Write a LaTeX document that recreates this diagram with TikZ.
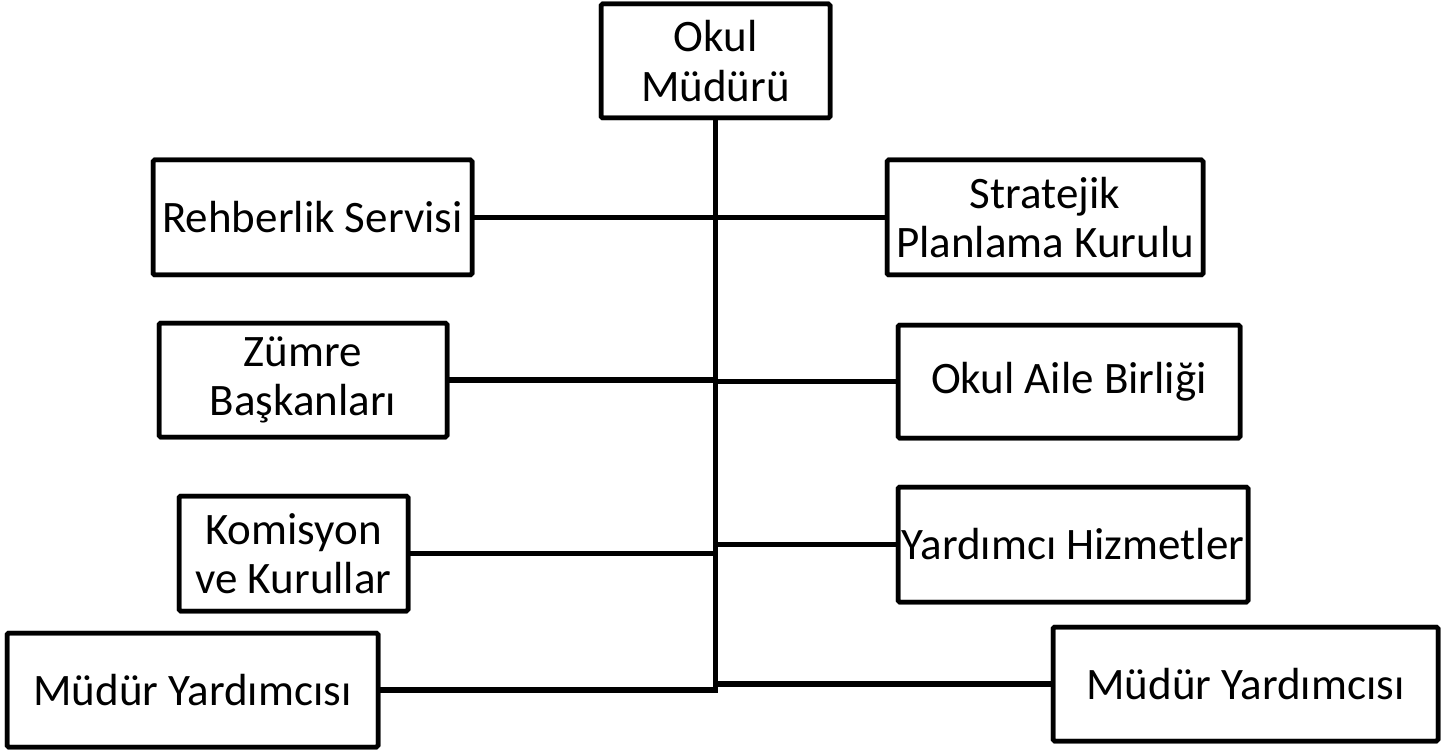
\documentclass[tikz,border=0pt]{standalone}
\usepackage{fontspec}
\setmainfont{Carlito}
\begin{document}
\begin{tikzpicture}[x=1pt,y=-1pt,
  orgbox/.style={draw=black, line width=4.5pt, rounded corners=1.5pt, fill=white,
    inner sep=0pt, outer sep=0pt, align=center, font=\fontsize{45}{49.5}\selectfont},
  link/.style={draw=black, line width=5.5pt}]
\useasboundingbox (0,0) rectangle (1456,751);
\fill[white] (0,0) rectangle (1456,751);
% nodes
\node[orgbox, minimum width=229pt, minimum height=114pt] (top) at (715.5,61) {Okul\\Müdürü};
\node[orgbox, minimum width=319pt, minimum height=115pt] (reh) at (312.5,217.5) {Rehberlik Servisi};
\node[orgbox, minimum width=316pt, minimum height=115pt] (str) at (1045,217.5) {Stratejik\\Planlama Kurulu};
\node[orgbox, minimum width=288pt, minimum height=114pt] (zum) at (303,380) {Zümre\\Başkanları};
\node[orgbox, minimum width=342pt, minimum height=113pt] (oab) at (1069,381.5) {Okul Aile Birliği};
\node[orgbox, minimum width=229pt, minimum height=115pt] (kom) at (293.5,553.5) {Komisyon\\ve Kurullar};
\node[orgbox, minimum width=350pt, minimum height=115pt] (yh) at (1073,544.5) {Yardımcı Hizmetler};
\node[orgbox, minimum width=371pt, minimum height=114pt] (myl) at (192.5,690) {Müdür Yardımcısı};
\node[orgbox, minimum width=385pt, minimum height=114pt] (myr) at (1245.5,684) {Müdür Yardımcısı};
% trunk
\coordinate (trunkend) at (top.south |- myl.east);
\draw[link] (top.south) -- ([yshift=2.75pt]trunkend);
% branches
\draw[link] (reh.east) -- (reh.east -| str.west);
\draw[link] (zum.east) -- (zum.east -| top.south);
\draw[link] (top.south |- oab.west) -- (oab.west);
\draw[link] (kom.east) -- (kom.east -| top.south);
\draw[link] (top.south |- yh.west) -- (yh.west);
\draw[link] (myl.east) -- ([xshift=2.75pt]myl.east -| top.south);
\draw[link] (top.south |- myr.west) -- (myr.west);
% redraw box borders over the link ends
\foreach \n in {top,reh,str,zum,oab,kom,yh,myl,myr}{
  \draw[line width=4.5pt, rounded corners=1.5pt] (\n.north west) rectangle (\n.south east);
}
\end{tikzpicture}
\end{document}
